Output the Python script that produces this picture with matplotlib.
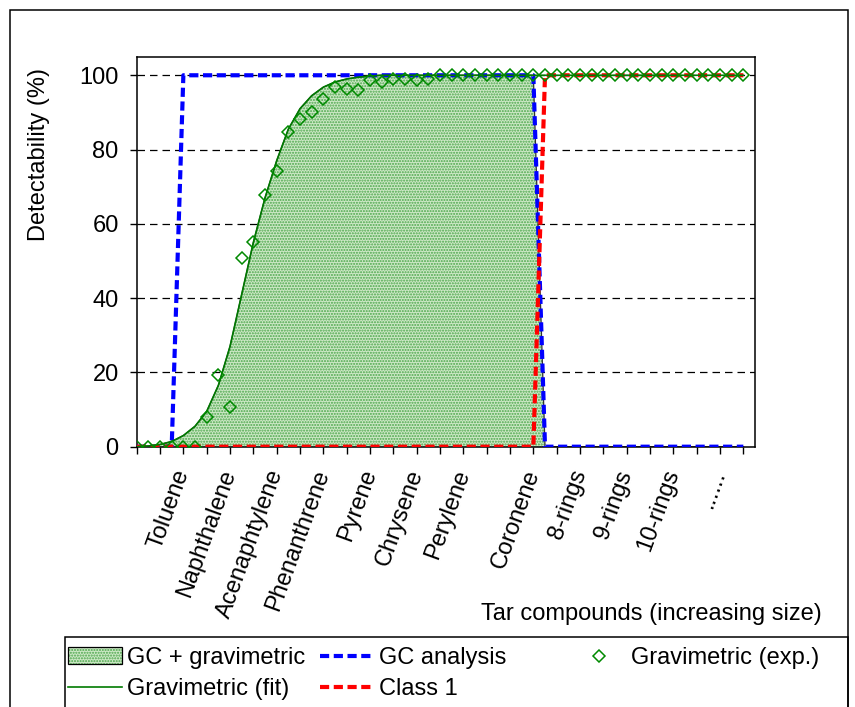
import numpy as np
import matplotlib.pyplot as plt
from matplotlib.patches import Patch, Rectangle
from matplotlib.legend_handler import HandlerTuple

plt.rcParams['font.family'] = ['Liberation Sans', 'DejaVu Sans']

# x positions (tick units, one tick per integer), data every half tick
pos = np.arange(0, 26.5, 0.5)

gc_analysis = [0] * 4 + [100] * 31 + [0] * 18
class_1 = [0] * 35 + [100] * 18

grav_fit = [0, 0.2, 0.6, 1.4, 3, 5.5, 9.5, 16.5, 27, 41, 55, 67, 77, 85.5,
            91, 94.5, 96.8, 98.2, 99, 99.5, 99.8, 100] + [100] * 31

grav_exp = [0, 0, 0, 0, 0, 0, 8.1, 19.3, 10.8, 50.8, 55.0, 67.9, 74.2, 84.7,
            88.1, 90.1, 93.7, 96.8, 96.2, 96.0, 98.7, 98.3, 99.1, 99.1, 98.7,
            98.9] + [100] * 27

compounds = ['Toluene', 'Naphthalene', 'Acenaphtylene', 'Phenanthrene', 'Pyrene',
             'Chrysene', 'Perylene', 'Coronene', '8-rings', '9-rings', '10-rings',
             '......']
compound_pos = [2, 4, 6, 8, 10, 12, 14, 17, 19, 21, 23, 25]

# GC + gravimetric covers what the fit sees, minus what is left to class 1
gc_grav = np.minimum(np.array(grav_fit), 100 - np.array(class_1))

W, H = 855, 707
FS = 17
fig = plt.figure(figsize=(W / 100, H / 100), dpi=100)
ax = fig.add_axes([136.7 / W, 1 - 446.7 / H, (755 - 136.7) / W, (446.7 - 56.7) / H])

fill = ax.fill_between(pos, 0, gc_grav, facecolor='#cde8c6', edgecolor='#4aa64a',
                       hatch='......', linewidth=0, zorder=1)
ax.plot(pos, gc_grav, color='#303030', lw=0.9, zorder=1.5)
l_gc, = ax.plot(pos, gc_analysis, color='#0000ff', lw=3, ls=(0, (2.2, 1.1)), zorder=3)
l_c1, = ax.plot(pos, class_1, color='#ff0000', lw=3, ls=(0, (2.2, 1.1)), zorder=4)
l_fit, = ax.plot(pos, grav_fit, color='#007a00', lw=1.2, zorder=5)
l_exp, = ax.plot(pos, grav_exp, ls='none', marker='D', ms=6.5, mfc='none',
                 mec='#008a00', mew=1.1, zorder=6)

ax.set_xlim(0, 26.5)
ax.set_ylim(0, 105)
ax.set_yticks([0, 20, 40, 60, 80, 100])
ax.yaxis.grid(True, color='k', ls=(0, (6, 4)), lw=0.9)
ax.set_axisbelow(True)

ax.set_xticks(compound_pos)
ax.set_xticklabels(compounds)
ax.set_xticks(np.arange(0, 27), minor=True)
plt.setp(ax.get_xticklabels(), rotation=70, ha='right', va='center',
         rotation_mode='anchor')
ax.tick_params(axis='x', which='both', direction='out', length=5, width=1)
ax.tick_params(axis='x', which='major', pad=12, labelsize=FS)
ax.tick_params(axis='y', direction='out', length=5, width=1, pad=8, labelsize=FS)
for s in ax.spines.values():
    s.set_linewidth(1.1)

ax.set_ylabel('Detectability (%)', fontsize=FS)
ax.yaxis.set_label_coords(-0.141, 0.749)
fig.text(822 / W, 1 - 620 / H, 'Tar compounds (increasing size)', fontsize=FS,
         ha='right', va='baseline')

# frames: figure border and legend box (both run off the bottom)
fig.add_artist(Rectangle((10 / W, -0.05), (848 - 10) / W, 0.05 + 1 - 10 / H,
                         transform=fig.transFigure, fill=False, ec='k', lw=1.1))
fig.add_artist(Rectangle((65 / W, -0.05), (848 - 65) / W, 0.05 + 1 - 637 / H,
                         transform=fig.transFigure, fill=False, ec='k', lw=1.1))

leg_kw = dict(loc='upper left', frameon=False, fontsize=FS, handlelength=2.3,
              handletextpad=0.2, labelspacing=0.38, borderpad=0, borderaxespad=0)
outline = Patch(fill=False, ec='k', lw=0.9)
leg1 = fig.legend([(fill, outline), l_fit], ['GC + gravimetric', 'Gravimetric (fit)'],
                  bbox_to_anchor=(68 / W, 1 - 647 / H),
                  handler_map={tuple: HandlerTuple(ndivide=1)}, **leg_kw)
leg2 = fig.legend([l_gc, l_c1], ['GC analysis', 'Class 1'],
                  bbox_to_anchor=(320 / W, 1 - 647 / H), **leg_kw)
leg3 = fig.legend([l_exp], ['Gravimetric (exp.)'], numpoints=1,
                  bbox_to_anchor=(572 / W, 1 - 647 / H), **leg_kw)

fig.savefig('out.png', dpi=100)
